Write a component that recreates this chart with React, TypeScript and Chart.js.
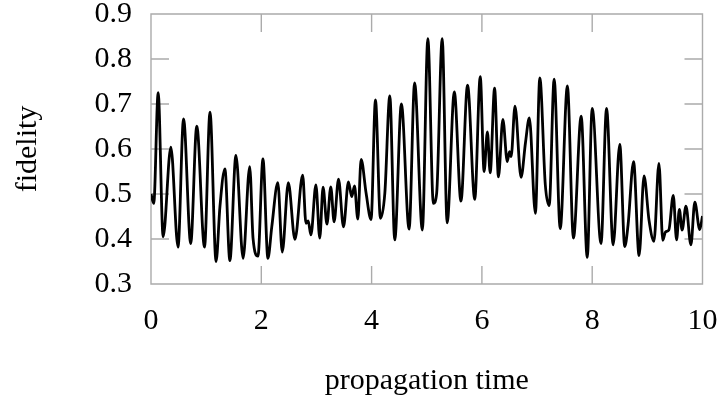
import React, { useEffect, useRef } from 'react';
import { Chart, registerables } from 'chart.js';

Chart.register(...registerables);

const times = [
  0, 0.05, 0.13, 0.22, 0.36, 0.49, 0.59, 0.72, 0.83, 0.97,
  1.07, 1.18, 1.25, 1.34, 1.43, 1.54, 1.67, 1.79, 1.85, 1.94,
  2.03, 2.12, 2.19, 2.30, 2.38, 2.49, 2.61, 2.75, 2.81, 2.85,
  2.90, 2.99, 3.06, 3.12, 3.19, 3.26, 3.32, 3.40, 3.49, 3.58,
  3.64, 3.69, 3.75, 3.81, 3.90, 3.99, 4.07, 4.16, 4.24, 4.33,
  4.42, 4.54, 4.68, 4.78, 4.92, 5.02, 5.12, 5.18, 5.28, 5.37,
  5.50, 5.62, 5.74, 5.87, 5.97, 6.04, 6.10, 6.15, 6.23, 6.30,
  6.38, 6.46, 6.50, 6.53, 6.60, 6.71, 6.79, 6.86, 6.97, 7.05,
  7.15, 7.22, 7.31, 7.42, 7.55, 7.66, 7.80, 7.91, 8.00, 8.16,
  8.26, 8.38, 8.50, 8.59, 8.65, 8.75, 8.85, 8.94, 9.03, 9.12,
  9.21, 9.28, 9.33, 9.39, 9.47, 9.53, 9.58, 9.63, 9.70, 9.79,
  9.86, 9.95, 10.0,
];

const fidelity = [
  0.500, 0.479, 0.725, 0.405, 0.604, 0.382, 0.667, 0.390, 0.651, 0.382,
  0.682, 0.350, 0.472, 0.556, 0.352, 0.586, 0.357, 0.561, 0.402, 0.362,
  0.578, 0.357, 0.427, 0.525, 0.371, 0.525, 0.399, 0.542, 0.435, 0.440,
  0.409, 0.520, 0.402, 0.515, 0.433, 0.516, 0.438, 0.533, 0.427, 0.527,
  0.494, 0.518, 0.444, 0.577, 0.502, 0.443, 0.709, 0.446, 0.502, 0.718,
  0.398, 0.700, 0.422, 0.747, 0.420, 0.845, 0.479, 0.502, 0.845, 0.436,
  0.727, 0.484, 0.742, 0.488, 0.761, 0.550, 0.638, 0.547, 0.735, 0.538,
  0.666, 0.572, 0.594, 0.583, 0.695, 0.537, 0.614, 0.669, 0.457, 0.758,
  0.520, 0.474, 0.755, 0.423, 0.740, 0.402, 0.673, 0.359, 0.690, 0.390,
  0.690, 0.387, 0.610, 0.383, 0.431, 0.572, 0.363, 0.540, 0.442, 0.395,
  0.568, 0.397, 0.416, 0.420, 0.497, 0.398, 0.466, 0.420, 0.473, 0.387,
  0.482, 0.421, 0.451,
];

const xTicks = [0, 2, 4, 6, 8, 10];
const yTicks = [0.3, 0.4, 0.5, 0.6, 0.7, 0.8, 0.9];
const xLabel = 'propagation time';
const yLabel = 'fidelity';

const FONT = '"Liberation Serif", "Times New Roman", serif';
const FRAME_COLOR = '#ababab';
const TICK_LEN = 18;

const framePlugin = {
  id: 'frameTicks',
  beforeDatasetsDraw(chart: any) {
    const { ctx, chartArea, scales } = chart;
    const { left, right, top, bottom } = chartArea;
    ctx.save();
    ctx.strokeStyle = FRAME_COLOR;
    ctx.lineWidth = 1.4;
    ctx.beginPath();
    ctx.rect(left, top, right - left, bottom - top);
    for (const v of xTicks) {
      const px = scales.x.getPixelForValue(v);
      ctx.moveTo(px, bottom);
      ctx.lineTo(px, bottom - TICK_LEN);
      ctx.moveTo(px, top);
      ctx.lineTo(px, top + TICK_LEN);
    }
    for (const v of yTicks) {
      const py = scales.y.getPixelForValue(v);
      ctx.moveTo(left, py);
      ctx.lineTo(left + TICK_LEN, py);
      ctx.moveTo(right, py);
      ctx.lineTo(right - TICK_LEN, py);
    }
    ctx.stroke();
    ctx.restore();
  },
};

const zeroPad = (scale: any) => {
  scale.paddingTop = 0;
  scale.paddingBottom = 0;
  scale.paddingLeft = 0;
  scale.paddingRight = 0;
};

export default function App() {
  const canvasRef = useRef<HTMLCanvasElement | null>(null);

  useEffect(() => {
    const canvas = canvasRef.current;
    if (!canvas) return;
    const points = times.map((t, i) => ({ x: t, y: fidelity[i] }));
    const chart = new Chart(canvas, {
      type: 'line',
      data: {
        datasets: [
          {
            data: points,
            borderColor: '#000000',
            borderWidth: 2.8,
            pointRadius: 0,
            fill: false,
            cubicInterpolationMode: 'monotone',
          },
        ],
      },
      options: {
        animation: false,
        responsive: false,
        devicePixelRatio: 1,
        layout: { padding: { left: 0, top: 14, right: 16.5, bottom: 0 } },
        plugins: { legend: { display: false }, tooltip: { enabled: false } },
        scales: {
          x: {
            type: 'linear',
            min: 0,
            max: 10,
            afterBuildTicks: (scale: any) => {
              scale.ticks = xTicks.map((v) => ({ value: v }));
            },
            afterFit: (scale: any) => {
              scale.height = 119;
              zeroPad(scale);
            },
            grid: { display: false, drawTicks: false },
            border: { display: false },
            ticks: {
              padding: 19,
              color: '#000',
              maxRotation: 0,
              autoSkip: false,
              font: { family: FONT, size: 30 },
              callback: (v: any) => String(v),
            },
            title: {
              display: true,
              text: xLabel,
              color: '#000',
              font: { family: FONT, size: 30 },
              padding: { top: 0, bottom: 4 },
            },
          },
          y: {
            type: 'linear',
            min: 0.3,
            max: 0.9,
            afterBuildTicks: (scale: any) => {
              scale.ticks = yTicks.map((v) => ({ value: v }));
            },
            afterFit: (scale: any) => {
              scale.width = 151;
              zeroPad(scale);
            },
            grid: { display: false, drawTicks: false },
            border: { display: false },
            ticks: {
              padding: 19,
              color: '#000',
              autoSkip: false,
              font: { family: FONT, size: 30 },
              callback: (v: any) => Number(v).toFixed(1),
            },
            title: {
              display: true,
              text: yLabel,
              color: '#000',
              font: { family: FONT, size: 30 },
              padding: { top: 10, bottom: 0 },
            },
          },
        },
      },
      plugins: [framePlugin],
    } as any);
    return () => chart.destroy();
  }, []);

  return (
    <div style={{ position: 'absolute', left: 0, top: 0, width: 719, height: 403, background: '#fff' }}>
      <canvas ref={canvasRef} width={719} height={403} style={{ display: 'block', width: 719, height: 403 }} />
    </div>
  );
}
